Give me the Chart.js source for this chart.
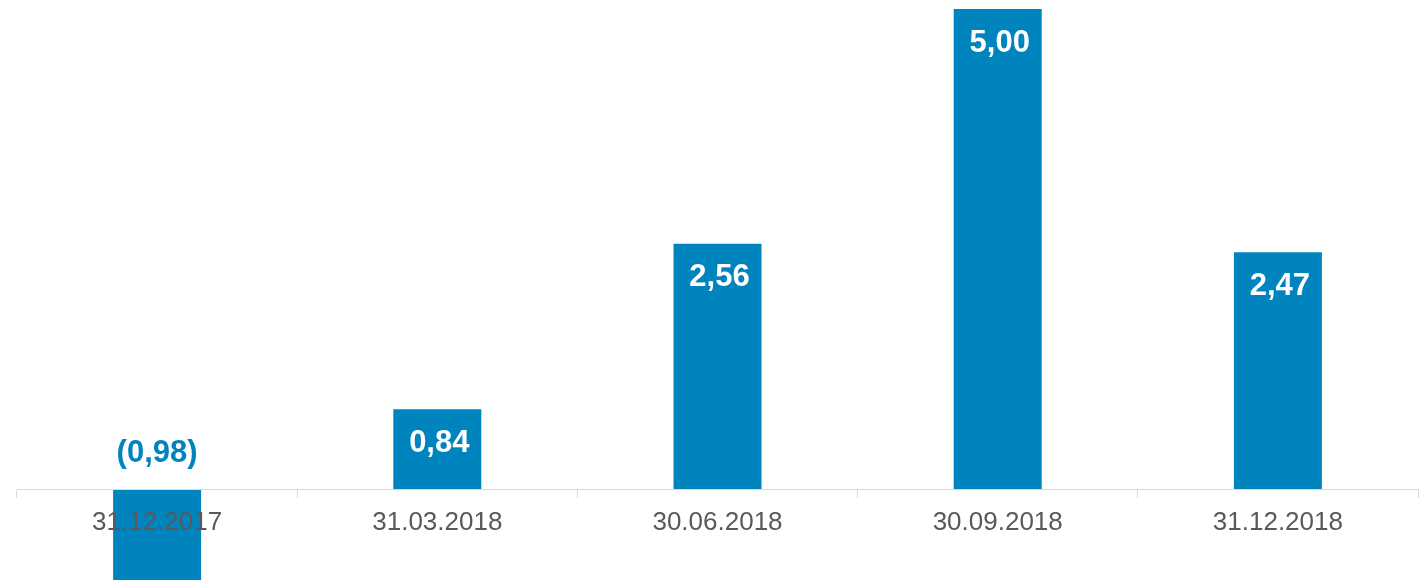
<!DOCTYPE html>
<html>
<head>
<meta charset="utf-8">
<script src="https://cdn.jsdelivr.net/npm/chart.js@4.4.1/dist/chart.umd.min.js"></script>
<style>
  html, body { margin: 0; padding: 0; background: #fff; }
  #wrap { width: 1427px; height: 580px; }
</style>
</head>
<body>
<div id="wrap"><canvas id="chart-bars" width="1427" height="580"></canvas></div>
<script>
const categories = ["31.12.2017", "31.03.2018", "30.06.2018", "30.09.2018", "31.12.2018"];
const values = [-0.98, 0.84, 2.56, 5.00, 2.47];
const valueLabels = ["(0,98)", "0,84", "2,56", "5,00", "2,47"];

const BLUE = "#0084be";

const valueLabelPlugin = {
  id: "valueLabels",
  afterDatasetsDraw(chart) {
    const { ctx } = chart;
    const meta = chart.getDatasetMeta(0);
    ctx.save();
    ctx.font = "bold 31px 'Liberation Sans', Arial, sans-serif";
    ctx.textAlign = "center";
    ctx.textBaseline = "middle";
    meta.data.forEach((bar, i) => {
      const v = values[i];
      if (v >= 0) {
        ctx.fillStyle = "#ffffff";
        ctx.fillText(valueLabels[i], bar.x + 2, bar.y + 34);
      } else {
        ctx.fillStyle = BLUE;
        ctx.fillText(valueLabels[i], bar.x, bar.base - 37);
      }
    });
    ctx.restore();
  },
};

new Chart(document.getElementById("chart-bars"), {
  type: "bar",
  data: {
    labels: categories,
    datasets: [{
      data: values,
      backgroundColor: BLUE,
      borderWidth: 0,
      categoryPercentage: 1,
      barPercentage: 0.314,
    }],
  },
  options: {
    responsive: false,
    animation: false,
    layout: { padding: { left: 17, right: 9, top: 9, bottom: 0 } },
    scales: {
      x: {
        position: { y: 0 },
        offset: true,
        grid: { offset: true, drawOnChartArea: false, drawTicks: true, tickLength: 8, color: "#d9d9d9" },
        border: { display: true, color: "#d9d9d9", width: 1, z: 1 },
        ticks: { z: 1, color: "#595959", font: { family: "'Liberation Sans', Arial, sans-serif", size: 26 }, padding: 9, maxRotation: 0 },
      },
      y: {
        display: false,
        min: -0.936,
        max: 5,
      },
    },
    plugins: {
      legend: { display: false },
      tooltip: { enabled: false },
    },
  },
  plugins: [valueLabelPlugin],
});
</script>
</body>
</html>
